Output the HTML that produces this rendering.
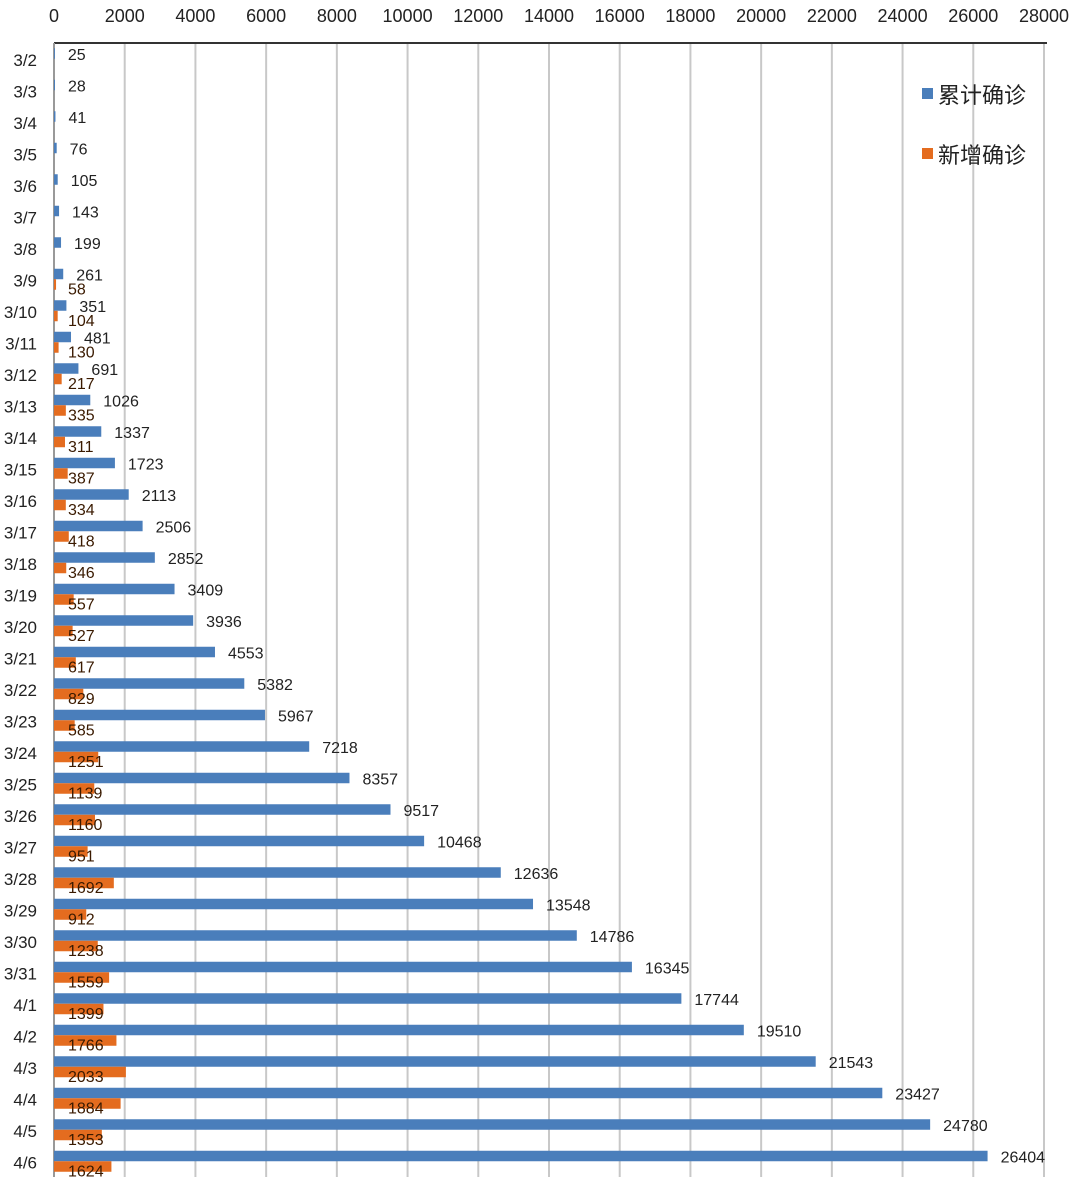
<!DOCTYPE html>
<html><head><meta charset="utf-8"><style>
body{margin:0;background:#fff;}
svg text{font-family:"Liberation Sans","Noto Sans CJK SC",sans-serif;}
</style></head><body>
<svg id="chart" width="1080" height="1183" xmlns="http://www.w3.org/2000/svg">
<g id="grid"></g><g id="bars"></g><g id="labels"></g>
<g>
<rect x="922" y="88" width="11" height="11" fill="#4a7ebb"/>
<text x="938" y="103" font-size="22" fill="#222">累计确诊</text>
<rect x="922" y="148" width="11" height="11" fill="#e46c1f"/>
<text x="938" y="163" font-size="22" fill="#222">新增确诊</text>
</g>
</svg>
<script>
const categories=["3/2","3/3","3/4","3/5","3/6","3/7","3/8","3/9","3/10","3/11","3/12","3/13","3/14","3/15","3/16","3/17","3/18","3/19","3/20","3/21","3/22","3/23","3/24","3/25","3/26","3/27","3/28","3/29","3/30","3/31","4/1","4/2","4/3","4/4","4/5","4/6"];
const cumulative=[25,28,41,76,105,143,199,261,351,481,691,1026,1337,1723,2113,2506,2852,3409,3936,4553,5382,5967,7218,8357,9517,10468,12636,13548,14786,16345,17744,19510,21543,23427,24780,26404];
const newCases=[null,null,null,null,null,null,null,58,104,130,217,335,311,387,334,418,346,557,527,617,829,585,1251,1139,1160,951,1692,912,1238,1559,1399,1766,2033,1884,1353,1624];
const ticks=[0,2000,4000,6000,8000,10000,12000,14000,16000,18000,20000,22000,24000,26000,28000];
const NS="http://www.w3.org/2000/svg";
const x0=54,x1=1044,y0=43,y1=1177,maxV=28000;
const xs=v=>x0+(x1-x0)*v/maxV;
const band=(y1-y0)/categories.length;
const yc=i=>y0+band*(i+0.5);
function mk(tag,attrs,parent){const e=document.createElementNS(NS,tag);for(const k in attrs)e.setAttribute(k,attrs[k]);parent.appendChild(e);return e;}
const G=document.getElementById('grid'),B=document.getElementById('bars'),L=document.getElementById('labels');
ticks.forEach(t=>{
  if(t>0){const l=mk('line',{x1:xs(t),x2:xs(t),y1:y0,y2:y1,stroke:'#c8c8c8','stroke-width':2},G);
  
  }
  const tx=mk('text',{x:xs(t),y:22,'font-size':18,'text-anchor':'middle',fill:'#222'},G);
  tx.textContent=t;
  
  
});
const ax=mk('line',{x1:x0,x2:1047,y1:y0,y2:y0,stroke:'#333','stroke-width':2},G);


const ay=mk('line',{x1:x0,x2:x0,y1:y0,y2:y1,stroke:'#999','stroke-width':2},G);


categories.forEach((c,i)=>{
  const cy=yc(i);
  const cl=mk('text',{x:37,y:cy+7,'font-size':17,'text-anchor':'end',fill:'#222'},L);
  cl.textContent=c;
  
  
  const v=cumulative[i];
  const b=mk('rect',{x:x0,y:cy-10.5,width:xs(v)-x0,height:10.5,fill:'#4a7ebb'},B);
  
  
  const bl=mk('text',{x:xs(v)+13,y:cy+1,'font-size':16,fill:'#222'},L);
  bl.textContent=v;
  
  
  const n=newCases[i];
  if(n!==null){
    const o=mk('rect',{x:x0,y:cy,width:xs(n)-x0,height:10.5,fill:'#e46c1f'},B);
    
    
    const ol=mk('text',{x:68,y:cy+15,'font-size':16,fill:'#3a1a00'},L);
    ol.textContent=n;
    
    
  }
});
</script>
</body></html>
